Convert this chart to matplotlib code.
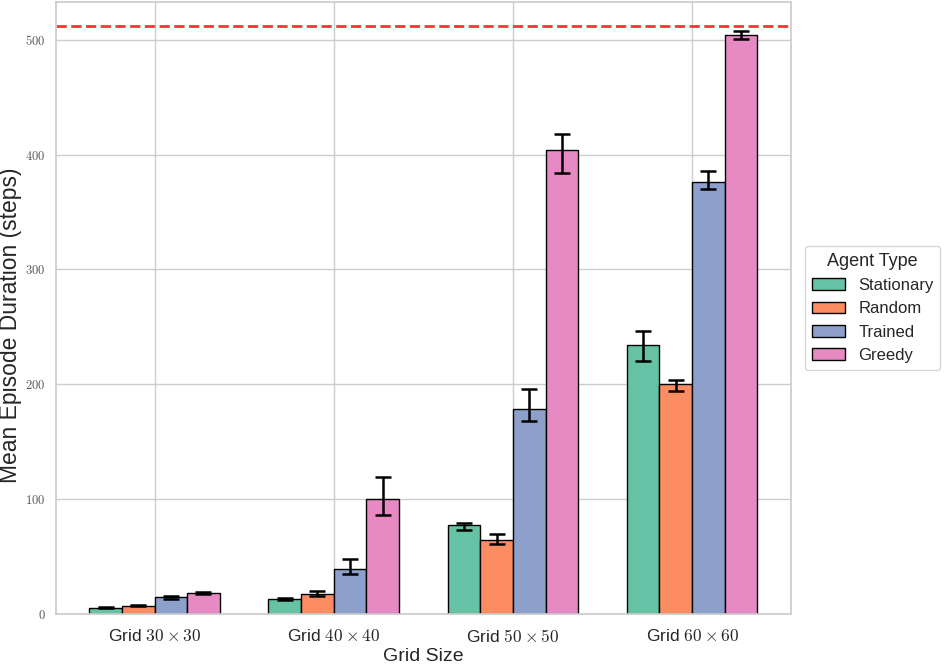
import numpy as np
import seaborn as sns
from matplotlib import pyplot as plt

grid_sizes = [30, 40, 50, 60]
agents = ["Stationary", "Random", "Trained", "Greedy"]

# mean episode duration per agent, one value per grid size
stationary = [5.5, 12.8, 77.0, 234.0]
random_agent = [7.2, 17.7, 64.2, 200.0]
trained = [14.5, 39.5, 178.3, 376.3]
greedy = [18.0, 100.5, 404.2, 504.4]

# error bar extents (below / above the mean)
stationary_lo = [0.5, 1.0, 3.8, 13.3]
stationary_hi = [0.5, 1.0, 2.2, 12.0]
random_lo = [0.3, 1.7, 3.2, 6.0]
random_hi = [0.3, 2.3, 5.8, 4.0]
trained_lo = [1.5, 4.5, 10.0, 6.3]
trained_hi = [1.5, 8.5, 17.4, 9.7]
greedy_lo = [0.8, 14.0, 20.3, 3.8]
greedy_hi = [0.8, 19.0, 13.8, 3.6]

max_steps = 512

sns.set_theme(style="whitegrid")
plt.rcParams["font.family"] = ["Liberation Sans", "DejaVu Sans"]
plt.rcParams["mathtext.fontset"] = "cm"

means = [stationary, random_agent, trained, greedy]
lows = [stationary_lo, random_lo, trained_lo, greedy_lo]
highs = [stationary_hi, random_hi, trained_hi, greedy_hi]
colors = sns.color_palette("Set2", 4)

fig = plt.figure(figsize=(9.47, 6.68), dpi=100)
ax = fig.add_axes([0.059, 0.081, 0.776, 0.916])

x = np.arange(len(grid_sizes))
width = 0.182
for i, agent in enumerate(agents):
    pos = x + (i - 1.5) * width
    ax.bar(pos, means[i], width=width, color=colors[i], edgecolor="black",
           linewidth=1, label=agent)
    ax.errorbar(pos, means[i], yerr=[lows[i], highs[i]], fmt="none",
                ecolor="black", elinewidth=1.8, capsize=6, capthick=1.8)

ax.axhline(max_steps, color="#ff3333", linestyle="--", linewidth=2)

ax.set_ylim(0, 533)
ax.set_xticks(x)
ax.set_xticklabels([f"Grid ${g} \\times {g}$" for g in grid_sizes], fontsize=12.5)
yt = [0, 100, 200, 300, 400, 500]
ax.set_yticks(yt)
ax.set_yticklabels([f"${v}$" for v in yt], fontsize=9, color="#555555")
ax.tick_params(axis="y", pad=1.5)
ax.tick_params(axis="x", pad=4)
ax.set_xlabel("Grid Size", fontsize=14, labelpad=2)
ax.set_ylabel("Mean Episode Duration (steps)", fontsize=16.5)
ax.yaxis.set_label_coords(-0.046, 0.472)
ax.set_axisbelow(True)

ax.legend(title="Agent Type", loc="center left", bbox_to_anchor=(1.008, 0.5),
          fontsize=12, title_fontsize=13, borderaxespad=0.5)

fig.savefig("out.png", dpi=100)
